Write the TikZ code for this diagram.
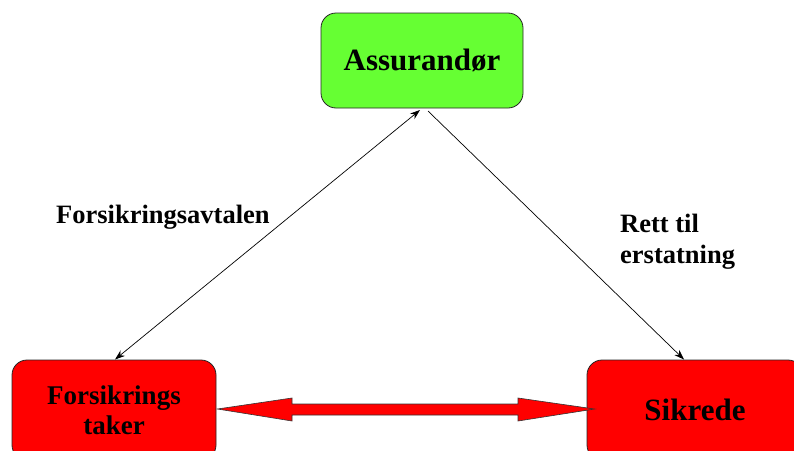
\documentclass[tikz,border=0pt]{standalone}
\usepackage{fontspec}
\setmainfont{Liberation Serif}
\usetikzlibrary{arrows.meta,calc}
\definecolor{boxgreen}{HTML}{66FF33}
\definecolor{boxred}{HTML}{FF0000}
\tikzset{
  party/.style={draw=black!85, line width=0.8pt, rounded corners=15pt, align=center, font=\bfseries, inner sep=0pt},
  link/.style={line width=0.7pt, black},
  tip/.tip={Stealth[length=10pt,width=7pt]},
  lbl/.style={font=\bfseries\fontsize{26.5}{31}\selectfont, align=left, inner sep=0pt, anchor=base west},
  block/.style={fill=boxred, draw=black!80, line width=0.6pt}
}
\begin{document}
\begin{tikzpicture}[x=1pt,y=-1pt]
\useasboundingbox (0,0) rectangle (794,450);
\clip (0,0) rectangle (794,450);
\node[party, fill=boxgreen, minimum width=202pt, minimum height=95pt, font=\bfseries\fontsize{31}{34}\selectfont] (ass) at (422,60.5) {Assurandør};
\node[party, fill=boxred, minimum width=204pt, minimum height=100pt, font=\bfseries\fontsize{27}{30}\selectfont] (ft) at (114,410) {Forsikrings\\taker};
\node[party, fill=boxred, minimum width=216pt, minimum height=100pt, font=\bfseries\fontsize{31}{34}\selectfont] (sik) at (695,410) {Sikrede};
% connector end points
\coordinate (a1) at (420,110);
\coordinate (a2) at (428,111);
\coordinate (f1) at (115,359.5);
\coordinate (s1) at (684,359.5);
\draw[link, tip-tip] (a1) -- (f1);
\draw[link, -tip] (a2) -- (s1);
% labels
\node[lbl] (l1) at (56,223) {Forsikringsavtalen};
\node[lbl] (l2) at (620,263) {Rett til\\erstatning};
% double block arrow
\draw[block] ($(ft.east)+(1,-1)$) -- (292,398) -- (292,404) -- (518,404) -- (518,398)
  -- ($(sik.west)+(8,-1)$) -- (518,421) -- (518,415) -- (292,415) -- (292,421) -- cycle;
\end{tikzpicture}
\end{document}
